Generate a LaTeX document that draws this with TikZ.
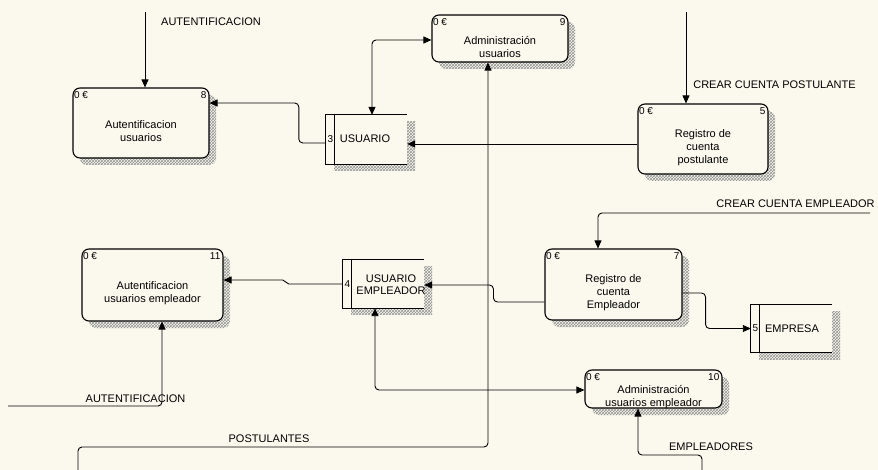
\documentclass[tikz,border=0pt]{standalone}
\usepackage{fontspec}
\setmainfont{Liberation Sans}
\usetikzlibrary{arrows.meta,patterns}
\definecolor{paper}{RGB}{251,249,238}

% process box: name, x, y, width, height, number, text
\newcommand\procbox[7]{%
  \node[procshade, minimum width=#4pt, minimum height=#5pt, xshift=7pt, yshift=-7pt] at (#2,#3) {};
  \node[proc, minimum width=#4pt, minimum height=#5pt] (#1) at (#2,#3) {};
  \node[tag, anchor=north west] (#1-id) at ([xshift=1.5pt,yshift=-3.5pt]#1.north west) {0 €};
  \node[tag, anchor=north east] (#1-no) at ([xshift=-3pt,yshift=-3.5pt]#1.north east) {#6};
  \node[ptext] (#1-txt) at ([yshift=-8.5pt]#1.center) {#7};
}
% data store: name, x, y, width, height, number
\newcommand\storebox[6]{%
  \node[storeshade, minimum width=#4pt, minimum height=#5pt, xshift=8pt, yshift=-7pt] at (#2,#3) {};
  \node[storearea, minimum width=#4pt, minimum height=#5pt] (#1) at (#2,#3) {};
  \draw[line width=1.1pt] (#1.north east) -- (#1.north west) -- (#1.south west) -- (#1.south east);
  \draw[line width=1.1pt] ([xshift=9pt]#1.north west) -- ([xshift=9pt]#1.south west);
  \node[tag] (#1-no) at ([xshift=4.5pt]#1.west) {#6};
}

\begin{document}
\begin{tikzpicture}[x=1pt,y=-1pt,
  proc/.style={draw, line width=1.1pt, rounded corners=7pt, fill=paper, inner sep=0pt},
  procshade/.style={rounded corners=7pt, pattern=crosshatch, pattern color=gray!85, inner sep=0pt},
  storeshade/.style={pattern=crosshatch, pattern color=gray!85, inner sep=0pt},
  storearea/.style={fill=paper, inner sep=0pt},
  ptext/.style={align=center, font=\fontsize{11}{13}\selectfont, inner sep=0pt},
  stext/.style={align=center, font=\fontsize{11}{12}\selectfont, inner sep=0pt},
  tag/.style={font=\fontsize{10}{12}\selectfont, inner sep=0pt},
  flowlabel/.style={font=\fontsize{11}{13}\selectfont, inner sep=0pt},
  conn/.style={line width=0.9pt, -{Triangle[length=8pt,width=7pt]}},
  biconn/.style={line width=0.9pt, {Triangle[length=8pt,width=7pt]}-{Triangle[length=8pt,width=7pt]}},
]
\fill[paper] (0,0) rectangle (878,470);
\useasboundingbox (0,0) rectangle (878,470);

% processes
\procbox{p8}{141}{123}{136}{70}{8}{Autentificacion\\usuarios}
\procbox{p9}{500}{38.5}{136}{47}{9}{Administración\\usuarios}
\procbox{p5}{703}{139}{130}{70}{5}{Registro de\\cuenta\\postulante}
\procbox{p11}{152.5}{285}{141}{72}{11}{Autentificacion\\usuarios empleador}
\procbox{p7}{613.5}{284.5}{137}{71}{7}{Registro de\\cuenta\\Empleador}
\procbox{p10}{653.5}{389}{137}{38}{10}{Administración\\usuarios empleador}

% data stores
\storebox{s3}{366.5}{139.5}{81}{49}{3}
\node[stext] (s3-txt) at (365,139) {USUARIO};
\storebox{s4}{383.5}{284}{81}{48}{4}
\node[stext] (s4-txt) at (391,284.5) {USUARIO\\EMPLEADOR};
\storebox{s5}{791.5}{328.5}{81}{47}{5}
\node[stext] (s5-txt) at (792,329) {EMPRESA};

% free ends and bend points
\coordinate (a1) at (145,12);
\coordinate (a5) at (686,12);
\coordinate (a6) at (78,470);
\coordinate (k6) at (488,447);
\coordinate (a8) at (8,406);
\coordinate (a12) at (870,213);
\coordinate (a13) at (702,470);
\coordinate (k13) at (638,455);

% flows
\draw[conn] (a1) -- (a1 |- p8.north);
\draw[conn, rounded corners=4pt] ([yshift=-3.5pt]s3.west) -- ++(-27,0) |- ([yshift=20pt]p8.east);
\draw[biconn, rounded corners=4pt] ([xshift=5.5pt]s3.north) |- ([yshift=-1.5pt]p9.west);
\draw[conn] ([yshift=-5pt]p5.west) coordinate (c4) -- (c4 -| s3.east);
\draw[conn] (a5) -- (a5 |- p5.north);
\draw[conn, rounded corners=4pt] (a6) |- (k6) -- (k6 |- p9.south);
\draw[conn] (s4.west) -- ++(-54,0) -- ++(-6,-4) -- ([yshift=5pt]p11.east);
\draw[conn, rounded corners=4pt] (a8) -| ([xshift=9.5pt]p11.south);
\draw[biconn, rounded corners=4pt] ([xshift=-8.5pt]s4.south) |- ([yshift=-1pt]p10.west);
\draw[conn, rounded corners=4pt] ([yshift=-17.5pt]p7.west) -- ++(-51,0) |- ([yshift=-1pt]s4.east);
\draw[conn, rounded corners=4pt] ([yshift=-8.5pt]p7.east) -- ++(23,0) |- (s5.west);
\draw[conn, rounded corners=4pt] (a12) -| ([xshift=-15.5pt]p7.north);
\draw[conn, rounded corners=4pt] (a13) |- (k13) -- (k13 |- p10.south);

% flow labels
\node[flowlabel] (l1) at (211,22) {AUTENTIFICACION};
\node[flowlabel] (l5) at (774.5,85) {CREAR CUENTA POSTULANTE};
\node[flowlabel] (l12) at (795.5,204) {CREAR CUENTA EMPLEADOR};
\node[flowlabel] (l8) at (135.5,399) {AUTENTIFICACION};
\node[flowlabel] (l6) at (269,439) {POSTULANTES};
\node[flowlabel] (l13) at (711,447) {EMPLEADORES};
\end{tikzpicture}
\end{document}
